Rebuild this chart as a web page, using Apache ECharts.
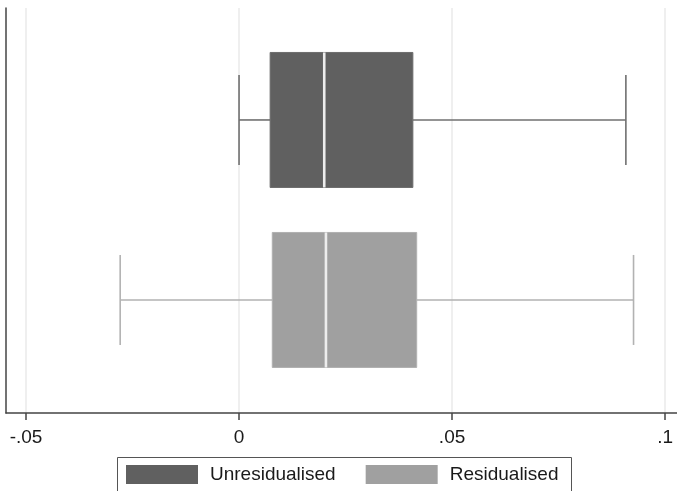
<!DOCTYPE html>
<html>
<head>
<meta charset="utf-8">
<script src="https://cdn.jsdelivr.net/npm/echarts@6/dist/echarts.min.js"></script>
<style>
  html, body { margin: 0; padding: 0; background: #fff; }
  #chart { width: 677px; height: 491px; }
</style>
</head>
<body>
<div id="chart"></div>
<script>
// box plot summaries, one entry per group
const groups = ['Unresidualised', 'Residualised'];
const rowPos = [2, 1];
const lowWhisker = [0.0, -0.0279];
const q1 = [0.0073, 0.0078];
const median = [0.0200, 0.0204];
const q3 = [0.0408, 0.0417];
const highWhisker = [0.0908, 0.0926];

const xTicks = [-0.05, 0, 0.05, 0.1];
const xTickLabels = ['-.05', '0', '.05', '.1'];

const boxFill = ['#606060', '#a0a0a0'];
const boxEdge = ['#6c6c6c', '#b0b0b0'];
const whiskerColor = ['#707070', '#b2b2b2'];

const chart = echarts.init(document.getElementById('chart'));

function makeRender(i) {
    return function (params, api) {
        const y = api.value(0);
        const unit = api.size([0, 1])[1];
        const halfBox = unit * 0.375;
        const halfCap = unit * 0.25;
        const pLow = api.coord([api.value(1), y]);
        const pQ1 = api.coord([api.value(2), y]);
        const pMed = api.coord([api.value(3), y]);
        const pQ3 = api.coord([api.value(4), y]);
        const pHigh = api.coord([api.value(5), y]);
        const lineStyle = { stroke: whiskerColor[i], lineWidth: 1.6 };
        return {
            type: 'group',
            children: [
                { type: 'line', shape: { x1: pLow[0], y1: pLow[1], x2: pQ1[0], y2: pQ1[1] }, style: lineStyle },
                { type: 'line', shape: { x1: pQ3[0], y1: pQ3[1], x2: pHigh[0], y2: pHigh[1] }, style: lineStyle },
                { type: 'line', shape: { x1: pLow[0], y1: pLow[1] - halfCap, x2: pLow[0], y2: pLow[1] + halfCap }, style: lineStyle },
                { type: 'line', shape: { x1: pHigh[0], y1: pHigh[1] - halfCap, x2: pHigh[0], y2: pHigh[1] + halfCap }, style: lineStyle },
                {
                    type: 'rect',
                    shape: { x: pQ1[0], y: pQ1[1] - halfBox, width: pQ3[0] - pQ1[0], height: halfBox * 2 },
                    style: { fill: boxFill[i], stroke: boxEdge[i], lineWidth: 1 }
                },
                {
                    type: 'line',
                    shape: { x1: pMed[0], y1: pMed[1] - halfBox, x2: pMed[0], y2: pMed[1] + halfBox },
                    style: { stroke: '#ededed', lineWidth: 2.6 }
                }
            ]
        };
    };
}

const series = groups.map((name, i) => ({
    name: name,
    type: 'custom',
    itemStyle: { color: boxFill[i] },
    renderItem: makeRender(i),
    encode: { x: [1, 2, 3, 4, 5], y: 0 },
    data: [[rowPos[i], lowWhisker[i], q1[i], median[i], q3[i], highWhisker[i]]]
}));

const option = {
    backgroundColor: '#ffffff',
    animation: false,
    textStyle: { fontFamily: 'Liberation Sans, Arial, sans-serif' },
    grid: { left: 6, right: 0, top: 8, bottom: 78 },
    // legend frame runs off the bottom edge, as in the original
    graphic: [{
        type: 'rect',
        shape: { x: 117.5, y: 457.5, width: 454, height: 60 },
        style: { fill: 'none', stroke: '#555', lineWidth: 1 }
    }],
    legend: {
        data: groups,
        left: 117,
        top: 457,
        orient: 'horizontal',
        icon: 'rect',
        itemWidth: 72,
        itemHeight: 19,
        itemGap: 30,
        padding: [8, 12, 6, 9],
        textStyle: { fontSize: 19, color: '#1a1a1a', padding: [0, 0, 0, 7] }
    },
    xAxis: {
        type: 'value',
        min: -0.0547,
        max: 0.1028,
        axisLine: { show: true, onZero: false, lineStyle: { color: '#444', width: 1.5 } },
        axisTick: { show: true, length: 7, customValues: xTicks, lineStyle: { color: '#444', width: 1.5 } },
        axisLabel: {
            customValues: xTicks,
            fontSize: 19,
            color: '#1a1a1a',
            margin: 15,
            formatter: v => xTickLabels[xTicks.indexOf(v)] ?? ''
        },
        splitLine: { show: true, lineStyle: { color: '#eaeaea', width: 1.5 } }
    },
    yAxis: {
        type: 'value',
        min: 0.372,
        max: 2.622,
        axisLine: { show: true, onZero: false, lineStyle: { color: '#444', width: 1.5 } },
        axisTick: { show: false },
        axisLabel: { show: false },
        splitLine: { show: false }
    },
    series: series
};

chart.setOption(option);
</script>
</body>
</html>
